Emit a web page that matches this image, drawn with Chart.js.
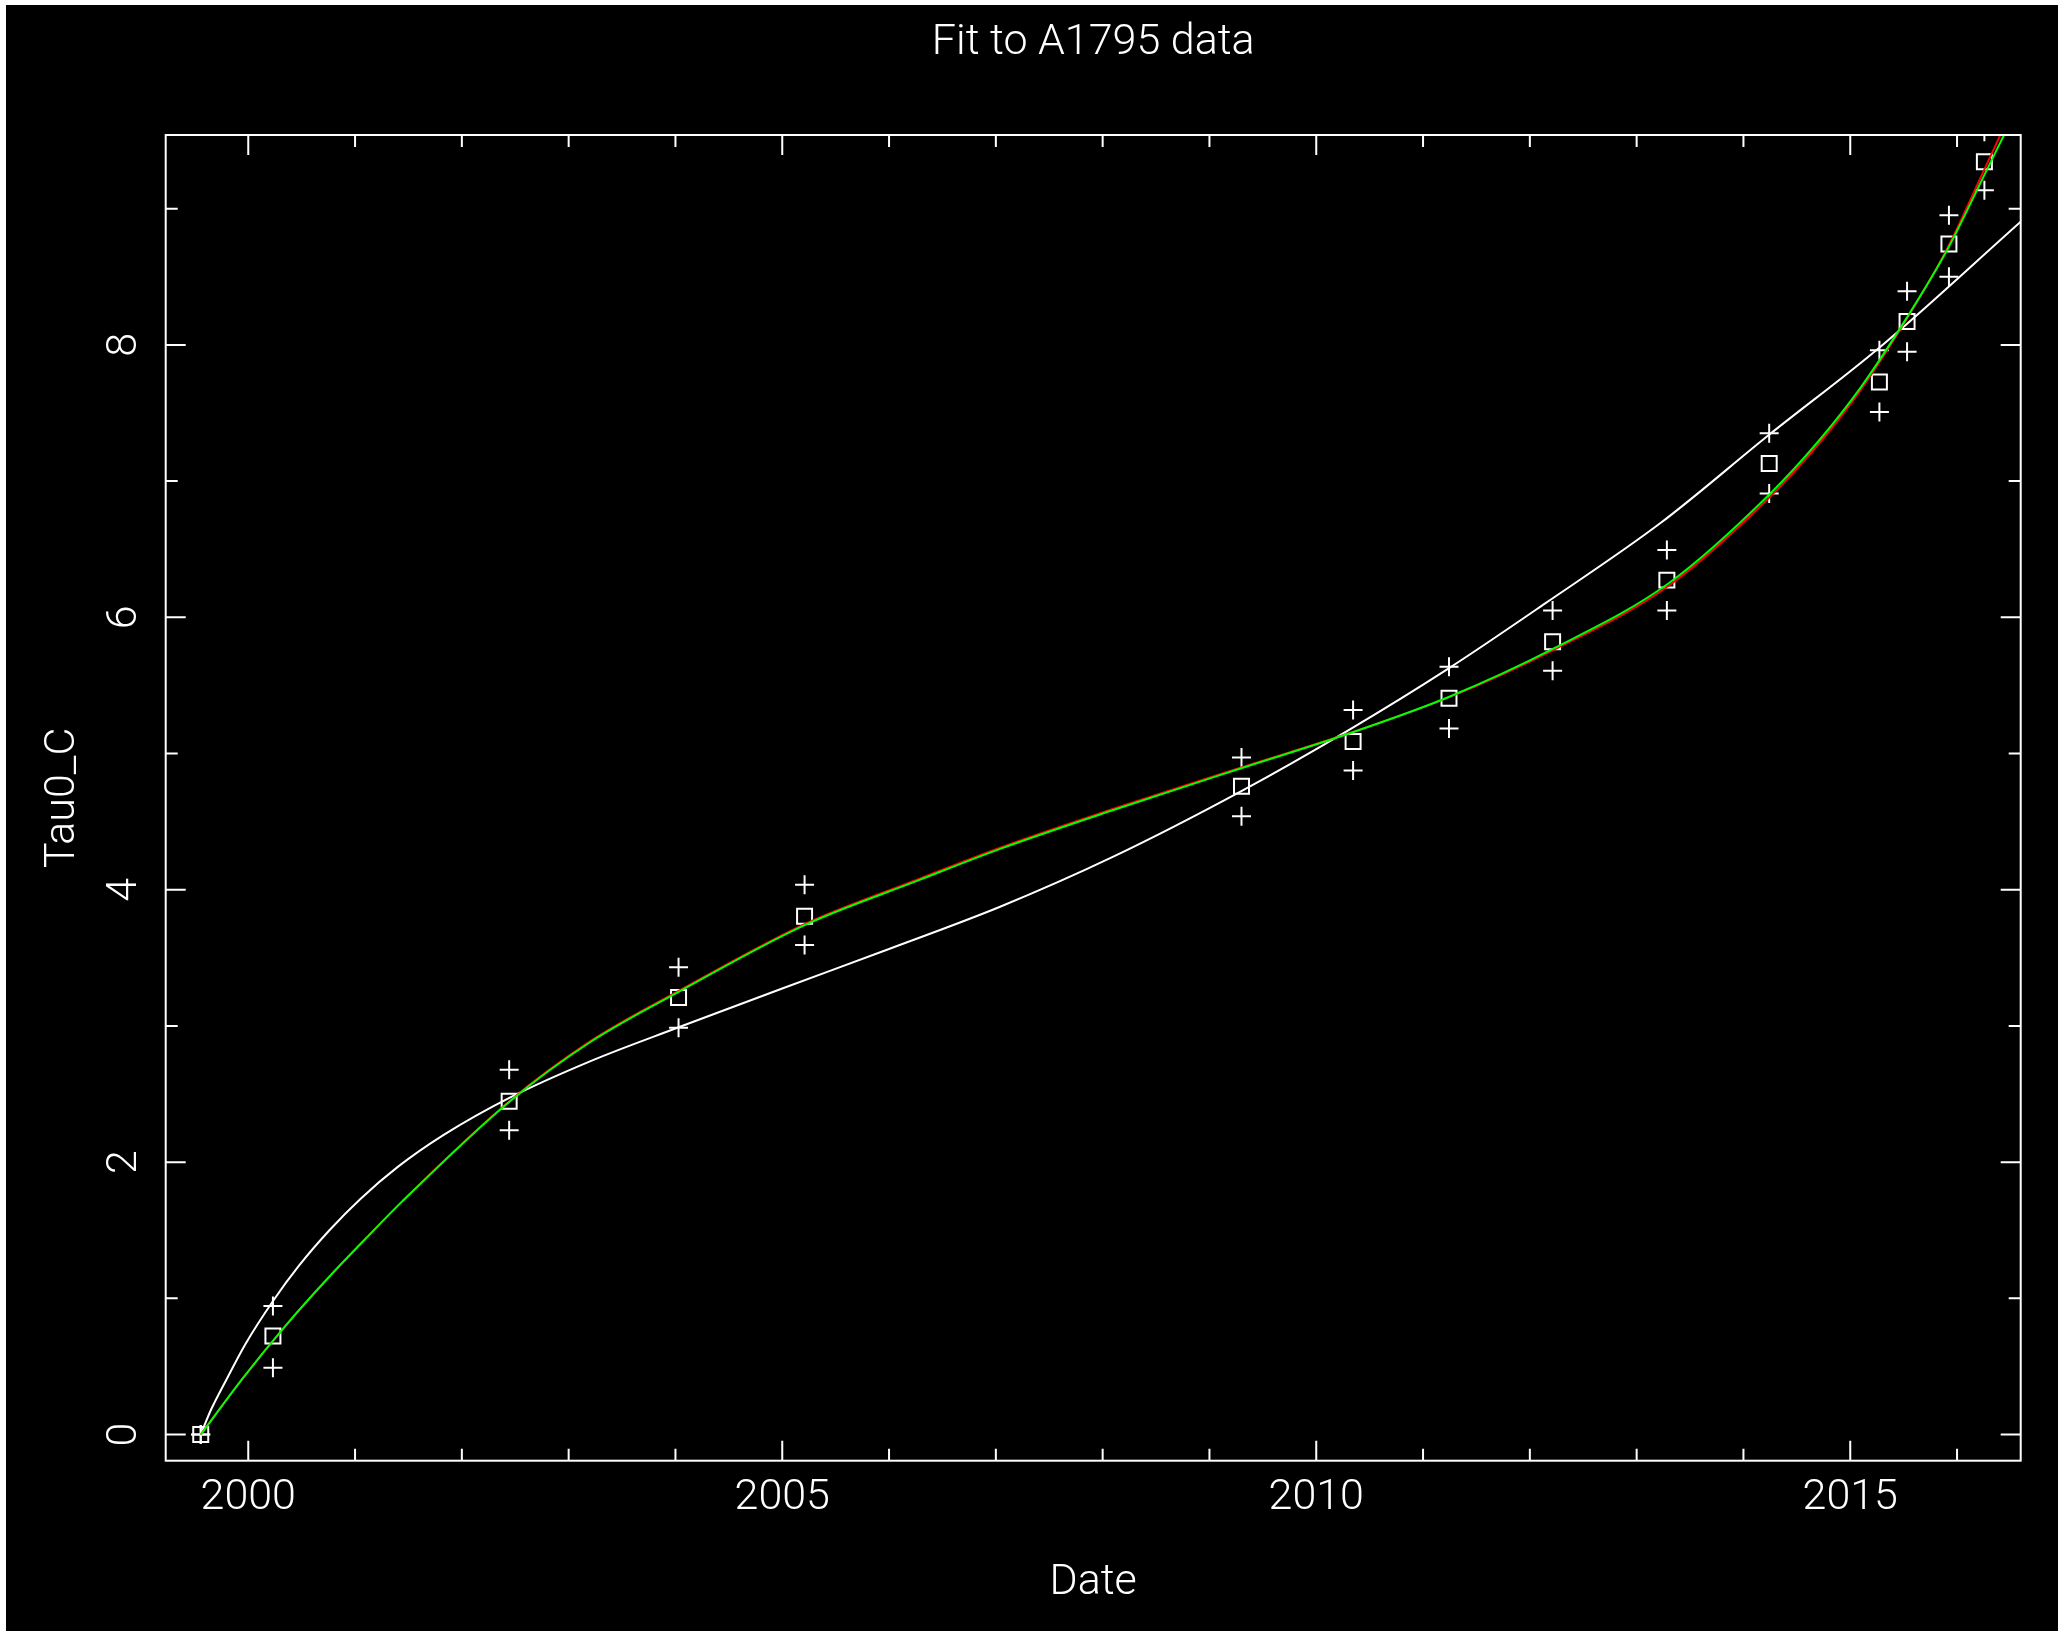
<!DOCTYPE html>
<html>
<head>
<meta charset="utf-8">
<script src="https://cdn.jsdelivr.net/npm/chart.js@4.4.0/dist/chart.umd.min.js"></script>
<style>
  html, body { margin: 0; padding: 0; background: #ffffff; }
  #wrap { position: absolute; left: 0; top: 0; width: 2058px; height: 1631px; }
</style>
</head>
<body>
<div id="wrap"><canvas id="chart" width="2058" height="1631"></canvas></div>
<script>
// Observed Tau0_C per epoch, with the upper / lower error limits
const obsDates = [1999.555, 2000.231, 2002.443, 2004.029, 2005.209, 2009.300, 2010.345, 2011.243, 2012.213, 2013.283, 2014.241, 2015.273, 2015.532, 2015.924, 2016.256];
const tau0     = [0.000, 0.723, 2.447, 3.209, 3.806, 4.760, 5.088, 5.406, 5.820, 6.273, 7.130, 7.728, 8.171, 8.740, 9.345];
const tauHi    = [0.000, 0.943, 2.678, 3.430, 4.037, 4.970, 5.320, 5.637, 6.050, 6.494, 7.352, 7.960, 8.393, 8.952, 9.565];
const tauLo    = [0.000, 0.491, 2.235, 2.987, 3.594, 4.540, 4.876, 5.184, 5.608, 6.050, 6.909, 7.507, 7.950, 8.500, 9.135];

// Fit curves sampled along the time axis
const whiteFitDates = [1999.555, 1999.650, 1999.800, 1999.970, 2000.240, 2000.475, 2000.760, 2001.050, 2001.400, 2001.830, 2002.440, 2003.200, 2004.030, 2005.000, 2006.000, 2007.040, 2008.080, 2009.290, 2010.300, 2011.240, 2012.140, 2013.220, 2014.240, 2015.280, 2016.596];
const whiteFitVals  = [0.000, 0.180, 0.410, 0.660, 0.990, 1.240, 1.500, 1.730, 1.965, 2.200, 2.470, 2.740, 2.990, 3.275, 3.565, 3.875, 4.235, 4.720, 5.170, 5.625, 6.100, 6.690, 7.340, 7.985, 8.905];

const greenFitDates = [1999.555, 1999.955, 2000.350, 2000.760, 2001.120, 2001.440, 2002.440, 2003.200, 2004.030, 2005.210, 2006.280, 2007.040, 2008.080, 2009.290, 2010.300, 2011.240, 2012.220, 2013.300, 2014.240, 2014.710, 2015.100, 2015.530, 2015.910, 2016.245, 2016.440];
const greenFitVals  = [0.000, 0.420, 0.800, 1.160, 1.455, 1.710, 2.440, 2.880, 3.250, 3.740, 4.070, 4.300, 4.580, 4.890, 5.145, 5.415, 5.770, 6.250, 6.900, 7.300, 7.690, 8.200, 8.700, 9.230, 9.541];

const redFitDates   = [1999.555, 1999.955, 2000.350, 2000.760, 2001.120, 2001.440, 2002.440, 2003.200, 2004.030, 2005.210, 2006.280, 2007.040, 2008.080, 2009.290, 2010.300, 2011.240, 2012.220, 2013.300, 2014.240, 2014.710, 2015.100, 2015.530, 2015.910, 2016.245, 2016.405];
const redFitVals    = [0.000, 0.418, 0.798, 1.158, 1.455, 1.712, 2.444, 2.886, 3.257, 3.748, 4.079, 4.309, 4.589, 4.896, 5.147, 5.412, 5.760, 6.232, 6.878, 7.278, 7.672, 8.192, 8.710, 9.270, 9.541];

// Axis ticks and the ticks that carry a label
const xTickValues = [2000, 2001, 2002, 2003, 2004, 2005, 2006, 2007, 2008, 2009, 2010, 2011, 2012, 2013, 2014, 2015, 2016];
const xLabelYears = [2000, 2005, 2010, 2015];
const yTickValues = [0, 1, 2, 3, 4, 5, 6, 7, 8, 9];
const yLabelValues = [0, 2, 4, 6, 8];

const FONT = "Roboto, 'Liberation Sans', Arial, sans-serif";
const TEXT_FONT = { family: FONT, size: 43, weight: '300' };
const INK = '#ffffff';

const pts = (xs, ys) => xs.map((x, i) => ({ x: x, y: ys[i] }));

// Black plotting surface with the thin light margin on the left and top edges
const backdrop = {
  id: 'backdrop',
  beforeDraw(chart) {
    const { ctx, width, height } = chart;
    ctx.save();
    ctx.fillStyle = '#ffffff';
    ctx.fillRect(0, 0, width, height);
    ctx.fillStyle = '#000000';
    ctx.fillRect(6, 5, width - 6, height - 5);
    ctx.restore();
  }
};

// Box frame with inward tick marks on all four sides
const frameTicks = {
  id: 'frameTicks',
  afterDraw(chart) {
    const { ctx, chartArea: a, scales: { x, y } } = chart;
    ctx.save();
    ctx.strokeStyle = INK;
    ctx.lineWidth = 2;
    ctx.strokeRect(a.left, a.top, a.right - a.left, a.bottom - a.top);
    ctx.beginPath();
    x.ticks.forEach(t => {
      const px = x.getPixelForValue(t.value);
      const len = t.label ? 20 : 12;
      ctx.moveTo(px, a.bottom); ctx.lineTo(px, a.bottom - len);
      ctx.moveTo(px, a.top); ctx.lineTo(px, a.top + len);
    });
    y.ticks.forEach(t => {
      const py = y.getPixelForValue(t.value);
      const len = t.label ? 20 : 12;
      ctx.moveTo(a.left, py); ctx.lineTo(a.left + len, py);
      ctx.moveTo(a.right, py); ctx.lineTo(a.right - len, py);
    });
    ctx.stroke();
    ctx.restore();
  }
};

const curve = (label, xs, ys, color) => ({
  label: label,
  data: pts(xs, ys),
  showLine: true,
  borderColor: color,
  borderWidth: 2,
  pointRadius: 0,
  fill: false,
  cubicInterpolationMode: 'monotone'
});

new Chart(document.getElementById('chart'), {
  type: 'scatter',
  data: {
    datasets: [
      curve('Green fit', greenFitDates, greenFitVals, '#00ff00'),
      curve('Red fit', redFitDates, redFitVals, '#ff0000'),
      curve('White fit', whiteFitDates, whiteFitVals, INK),
      {
        label: 'Tau0_C',
        data: pts(obsDates, tau0),
        pointStyle: 'rect',
        pointRadius: 10.6,
        borderColor: INK,
        borderWidth: 2,
        backgroundColor: 'rgba(0,0,0,0)'
      },
      {
        label: 'Upper limit',
        data: pts(obsDates, tauHi),
        pointStyle: 'cross',
        pointRadius: 9.5,
        borderColor: INK,
        borderWidth: 2
      },
      {
        label: 'Lower limit',
        data: pts(obsDates, tauLo),
        pointStyle: 'cross',
        pointRadius: 9.5,
        borderColor: INK,
        borderWidth: 2
      }
    ]
  },
  options: {
    responsive: false,
    devicePixelRatio: 1,
    animation: false,
    events: [],
    layout: { padding: { left: 0, right: 37.3, top: 0, bottom: 0 } },
    plugins: {
      legend: { display: false },
      tooltip: { enabled: false },
      title: {
        display: true,
        fullSize: false,
        text: 'Fit to A1795 data',
        color: INK,
        font: TEXT_FONT,
        padding: { top: 17.5, bottom: 65.9 }
      }
    },
    scales: {
      x: {
        type: 'linear',
        position: 'bottom',
        min: 1999.227,
        max: 2016.596,
        afterBuildTicks: s => { s.ticks = xTickValues.map(v => ({ value: v })); },
        afterFit: s => { s.height = 170.3; },
        grid: { display: false, drawTicks: false },
        border: { display: false },
        ticks: {
          autoSkip: false,
          minRotation: 0,
          maxRotation: 0,
          padding: 12,
          color: INK,
          font: TEXT_FONT,
          callback: v => xLabelYears.includes(v) ? String(v) : ''
        },
        title: {
          display: true,
          text: 'Date',
          color: INK,
          font: TEXT_FONT,
          padding: { top: 0, bottom: 22 }
        }
      },
      y: {
        type: 'linear',
        position: 'left',
        min: -0.192,
        max: 9.541,
        afterBuildTicks: s => { s.ticks = yTickValues.map(v => ({ value: v })); },
        afterFit: s => { s.width = 165.7; },
        grid: { display: false, drawTicks: false },
        border: { display: false },
        ticks: {
          autoSkip: false,
          minRotation: 90,
          maxRotation: 90,
          crossAlign: 'center',
          padding: 29,
          color: INK,
          font: TEXT_FONT,
          callback: v => yLabelValues.includes(v) ? String(v) : ''
        },
        title: {
          display: true,
          text: 'Tau0_C',
          color: INK,
          font: TEXT_FONT,
          padding: { top: 37.5, bottom: 0 }
        }
      }
    }
  },
  plugins: [backdrop, frameTicks]
});
</script>
</body>
</html>
